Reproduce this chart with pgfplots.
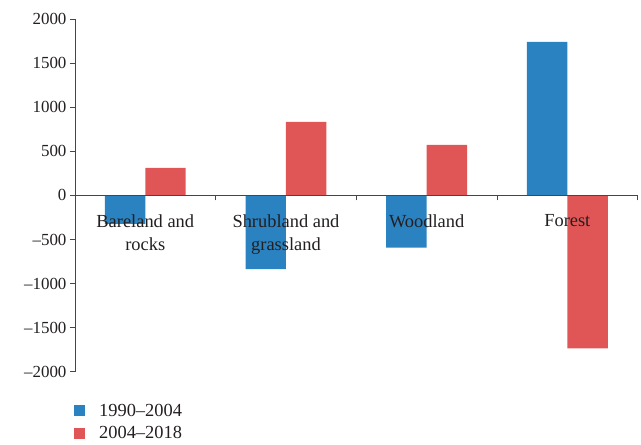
\documentclass[border=0pt]{standalone}
\usepackage{pgfplots}
\pgfplotsset{compat=1.18}
\usepackage{pgfplotstable}
\usepackage{fontspec}
\setmainfont{Liberation Serif}
\usetikzlibrary{calc}
\definecolor{barblue}{RGB}{42,130,193}
\definecolor{barred}{RGB}{224,86,86}
\definecolor{txt}{RGB}{35,31,32}
\definecolor{axgray}{RGB}{70,70,70}

\pgfplotstableread{
x v1 v2
0.5 -323 312
1.5 -837 833
2.5 -592 573
3.5 1741 -1733
}\landdata

\begin{document}
\begin{tikzpicture}[font=\fontsize{17}{20}\selectfont, text=txt]
\begin{axis}[
  scale only axis, width=563bp, height=353bp,
  xmin=0, xmax=4, ymin=-2000, ymax=2000,
  axis on top,
  axis x line=middle, axis y line=left,
  axis line style={-, draw=axgray, line width=0.8pt},
  tick style={draw=axgray, line width=0.8pt},
  tick align=outside, major tick length=5bp,
  xtick={1,2,3,4}, xticklabels={},
  extra x ticks={0.5,1.5,2.5,3.5},
  extra x tick labels={Bareland and\\rocks, Shrubland and\\grassland, Woodland, Forest},
  extra x tick style={major tick length=0pt,
    tick label style={align=center, yshift=-16bp, font=\fontsize{18.5}{23}\selectfont}},
  ytick={-2000,-1500,...,2000},
  yticklabels={\textendash2000,\textendash1500,\textendash1000,\textendash500,0,500,1000,1500,2000},
  every tick label/.append style={font=\fontsize{17}{20}\selectfont, text=txt},
  ybar, bar width=0.2875,
  legend style={at={(0,0)}, anchor=north west, xshift=-4bp, yshift=-28bp, draw=none, fill=none,
    font=\fontsize{18.5}{20}\selectfont, text=txt, row sep=5bp},
  legend cell align=left,
]
\addplot[fill=barblue, draw=none, bar shift=-0.14375,
  legend image code/.code={\fill[barblue] (0bp,-5.5bp) rectangle (11bp,5.5bp); \path (23bp,0);}]
  table[x=x, y=v1] {\landdata};
\addlegendentry{1990\textendash2004}
\addplot[fill=barred, draw=none, bar shift=0.14375,
  legend image code/.code={\fill[barred] (0bp,-5.5bp) rectangle (11bp,5.5bp); \path (23bp,0);}]
  table[x=x, y=v2] {\landdata};
\addlegendentry{2004\textendash2018}
\end{axis}
\path ($(current axis.south west)+(-75bp,-71bp)$) rectangle ($(current axis.north east)+(3bp,19bp)$);
\end{tikzpicture}
\end{document}
